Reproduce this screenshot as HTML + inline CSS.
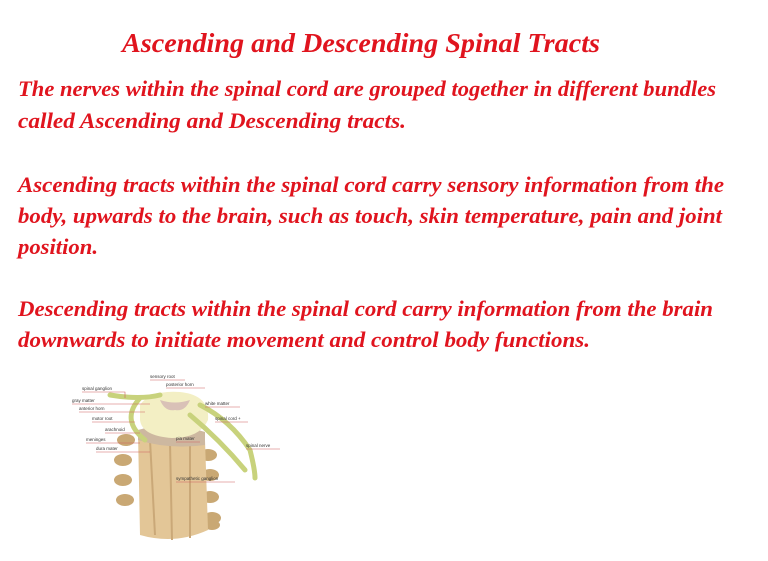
<!DOCTYPE html>
<html><head><style>
html,body{margin:0;padding:0;background:#fff;width:768px;height:561px;overflow:hidden}
</style></head><body>
<svg width="768" height="561" viewBox="0 0 768 561" xmlns="http://www.w3.org/2000/svg">
<g fill="#e0141e" font-family="Liberation Serif, serif" font-style="italic" font-weight="bold">
<text x="122" y="52" font-size="27" textLength="478" lengthAdjust="spacingAndGlyphs">Ascending and Descending Spinal Tracts</text>
<g font-size="22">
<text x="18" y="96" textLength="698" lengthAdjust="spacingAndGlyphs">The nerves within the spinal cord are grouped together in different bundles</text>
<text x="18" y="128" textLength="388" lengthAdjust="spacingAndGlyphs">called Ascending and Descending tracts.</text>
<text x="18" y="192" textLength="706" lengthAdjust="spacingAndGlyphs">Ascending tracts within the spinal cord carry sensory information from the</text>
<text x="18" y="223" textLength="704" lengthAdjust="spacingAndGlyphs">body, upwards to the brain, such as touch, skin temperature, pain and joint</text>
<text x="18" y="254" textLength="80" lengthAdjust="spacingAndGlyphs">position.</text>
<text x="18" y="316" textLength="695" lengthAdjust="spacingAndGlyphs">Descending tracts within the spinal cord carry information from the brain</text>
<text x="18" y="347" textLength="572" lengthAdjust="spacingAndGlyphs">downwards to initiate movement and control body functions.</text>
</g></g>
<!-- illustration -->
<g>
<g fill="#c9a874">
<ellipse cx="126" cy="440" rx="9" ry="6"/><ellipse cx="123" cy="460" rx="9" ry="6"/><ellipse cx="123" cy="480" rx="9" ry="6"/><ellipse cx="125" cy="500" rx="9" ry="6"/>
<ellipse cx="208" cy="455" rx="9" ry="6"/><ellipse cx="210" cy="475" rx="9" ry="6"/><ellipse cx="210" cy="497" rx="9" ry="6"/><ellipse cx="212" cy="518" rx="9" ry="6"/><ellipse cx="212" cy="525" rx="8" ry="5"/>
</g>
<path d="M138 432 L205 440 L208 530 Q175 545 140 535 Z" fill="#e3c697"/>
<path d="M150 440 L155 535 M170 442 L172 540 M190 442 L190 538" stroke="#caa878" stroke-width="2"/>
<path d="M138 430 Q170 420 205 432 L205 445 Q170 450 138 440 Z" fill="#cdb8a0"/>
<path d="M140 405 Q150 390 180 392 Q210 395 208 420 Q200 438 172 438 Q142 436 140 420 Z" fill="#f3efc4"/>
<path d="M160 400 Q175 405 190 400 Q185 412 175 410 Q165 412 160 400Z" fill="#d9c1b7"/>
<path d="M110 395 Q140 400 160 395 M140 398 Q120 420 145 440 M200 405 Q230 420 250 450 Q255 470 255 478 M190 415 Q220 440 245 470" stroke="#c8d27c" stroke-width="5" fill="none" stroke-linecap="round"/>
</g>
<g font-family="Liberation Sans, sans-serif" font-size="4.5" fill="#333">
<text x="150" y="378">sensory root</text><text x="166" y="386">posterior horn</text>
<text x="82" y="390">spinal ganglion</text><text x="72" y="402">gray matter</text>
<text x="79" y="410">anterior horn</text><text x="92" y="420">motor root</text>
<text x="105" y="431">arachnoid</text><text x="86" y="441">meninges</text>
<text x="96" y="450">dura mater</text><text x="205" y="405">white matter</text>
<text x="215" y="420">spinal cord +</text><text x="176" y="440">pia mater</text>
<text x="246" y="447">spinal nerve</text><text x="176" y="480">sympathetic ganglion</text>
</g>
<g stroke="#d06060" stroke-width="0.6" fill="none">
<path d="M82 392 H125 V398"/><path d="M72 404 H150"/><path d="M79 412 H145"/><path d="M92 422 H135"/>
<path d="M105 433 H140"/><path d="M86 443 H140"/><path d="M96 452 H150"/><path d="M205 407 H240"/>
<path d="M215 422 H248"/><path d="M176 442 H200"/><path d="M246 449 H280"/><path d="M176 482 H235"/>
<path d="M150 380 H185"/><path d="M166 388 H205"/>
</g>
</svg>
</body></html>
